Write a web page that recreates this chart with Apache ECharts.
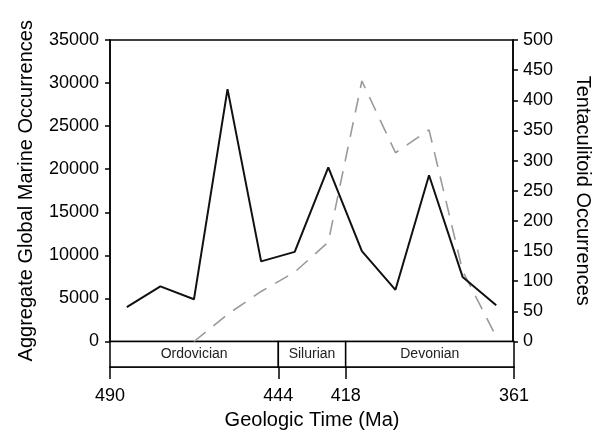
<!DOCTYPE html>
<html>
<head>
<meta charset="utf-8">
<script src="https://cdn.jsdelivr.net/npm/echarts@6/dist/echarts.min.js"></script>
<style>
html, body { margin: 0; padding: 0; background: #fff; }
#chart { width: 601px; height: 433px; }
</style>
</head>
<body>
<div id="chart"></div>
<script>
// time bins (12 equal-width bins on the axis)
var timeBins = ['1', '2', '3', '4', '5', '6', '7', '8', '9', '10', '11', '12'];
var marineOcc = [4000, 6400, 4900, 29300, 9300, 10400, 20200, 10500, 6000, 19300, 7500, 4200];
var tentaculitoidOcc = ['-', '-', 0, 45, 83, 115, 165, 432, 313, 351, 117, 8];

var periods = ['Ordovician', 'Silurian', 'Devonian'];
var periodFrom = [0, 5, 7];
var periodTo = [5, 7, 12];
var boundaryBins = [0, 5, 7, 12];
var boundaryAges = ['490', '444', '418', '361'];

var font = 'Liberation Sans, Arial, sans-serif';

window.onload = function() {
    var ec = echarts.init(document.getElementById('chart'));

    var bandData = periods.map(function(p, i) {
        return [periodFrom[i], periodTo[i], p];
    });

    ec.setOption({
        animation: false,
        grid: [{
            left: 110,
            width: 404,
            top: 40,
            height: 301.5,
            show: true,
            borderColor: '#000',
            borderWidth: 1.5
        }, {
            left: 110,
            width: 404,
            top: 341.5,
            height: 25.5
        }],
        xAxis: [{
            gridIndex: 0,
            type: 'category',
            data: timeBins,
            boundaryGap: true,
            axisLine: { show: false },
            axisTick: { show: false },
            axisLabel: { show: false }
        }, {
            gridIndex: 1,
            type: 'value',
            min: 0,
            max: 12,
            axisLine: { lineStyle: { color: '#000', width: 1.5 } },
            axisTick: {
                customValues: boundaryBins,
                length: 12,
                lineStyle: { color: '#000', width: 1.5 }
            },
            axisLabel: {
                customValues: boundaryBins,
                formatter: function(v) {
                    return boundaryAges[boundaryBins.indexOf(v)];
                },
                margin: 20,
                color: '#000',
                fontSize: 18,
                fontFamily: font
            },
            splitLine: { show: false },
            name: 'Geologic Time (Ma)',
            nameLocation: 'middle',
            nameGap: 43,
            nameTextStyle: { color: '#000', fontSize: 20, fontFamily: font }
        }],
        yAxis: [{
            gridIndex: 0,
            type: 'value',
            min: 0,
            max: 35000,
            interval: 5000,
            axisLine: { show: true, lineStyle: { color: '#000', width: 1.5 } },
            axisTick: { show: true, length: 5, lineStyle: { color: '#000', width: 1.5 } },
            axisLabel: {
                margin: 11,
                color: '#000',
                fontSize: 18,
                fontFamily: font,
                formatter: function(v) { return String(v); }
            },
            splitLine: { show: false },
            name: 'Aggregate Global Marine Occurrences',
            nameLocation: 'middle',
            nameGap: 74,
            nameTextStyle: { color: '#000', fontSize: 20, fontFamily: font }
        }, {
            gridIndex: 0,
            type: 'value',
            position: 'right',
            min: 0,
            max: 500,
            interval: 50,
            axisLine: { show: true, lineStyle: { color: '#000', width: 1.5 } },
            axisTick: { show: true, length: 5, lineStyle: { color: '#000', width: 1.5 } },
            axisLabel: { margin: 10, color: '#000', fontSize: 18, fontFamily: font },
            splitLine: { show: false },
            name: 'Tentaculitoid Occurrences',
            nameLocation: 'middle',
            nameRotate: -90,
            nameGap: 60,
            nameTextStyle: { color: '#000', fontSize: 20, fontFamily: font }
        }, {
            gridIndex: 1,
            type: 'value',
            min: 0,
            max: 1,
            show: false
        }],
        series: [{
            type: 'line',
            xAxisIndex: 0,
            yAxisIndex: 1,
            symbol: 'none',
            lineStyle: { color: '#9a9a9a', width: 1.6, type: [15, 10] },
            data: tentaculitoidOcc,
            z: 2
        }, {
            type: 'line',
            xAxisIndex: 0,
            yAxisIndex: 0,
            symbol: 'none',
            lineStyle: { color: '#111', width: 2 },
            data: marineOcc,
            z: 3
        }, {
            type: 'custom',
            xAxisIndex: 1,
            yAxisIndex: 2,
            data: bandData,
            renderItem: function(params, api) {
                var p0 = api.coord([api.value(0), 1]);
                var p1 = api.coord([api.value(1), 0]);
                return {
                    type: 'group',
                    children: [{
                        type: 'rect',
                        shape: { x: p0[0], y: p0[1], width: p1[0] - p0[0], height: p1[1] - p0[1] },
                        style: { fill: '#fff', stroke: '#000', lineWidth: 1.5 }
                    }, {
                        type: 'text',
                        style: {
                            text: api.value(2),
                            x: (p0[0] + p1[0]) / 2,
                            y: (p0[1] + p1[1]) / 2,
                            align: 'center',
                            verticalAlign: 'middle',
                            fill: '#222',
                            font: '14px ' + font
                        }
                    }]
                };
            }
        }]
    });
};
</script>
</body>
</html>
